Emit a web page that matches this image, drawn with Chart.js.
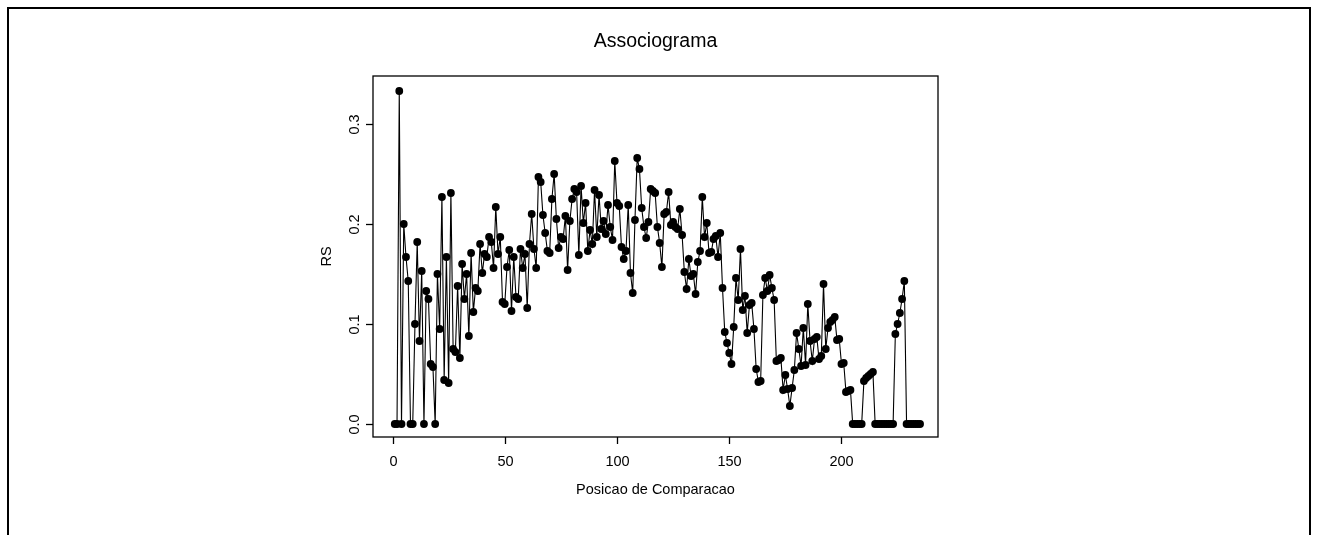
<!DOCTYPE html>
<html>
<head>
<meta charset="utf-8">
<title>Associograma</title>
<script src="https://cdn.jsdelivr.net/npm/chart.js@4/dist/chart.umd.min.js"></script>
<style>
  html, body { margin: 0; padding: 0; background: #fff; }
  canvas { display: block; }
</style>
</head>
<body>
<canvas id="grafico" width="1319" height="535"></canvas>
<script>
// valores (RS por posicao de comparacao)
const rs = [
    0, 0, 0.333, 0, 0.2, 0.167, 0.143, 0, 0, 0.1,
    0.182, 0.083, 0.153, 0, 0.133, 0.125, 0.06, 0.057, 0, 0.15,
    0.095, 0.227, 0.044, 0.167, 0.041, 0.231, 0.075, 0.072, 0.138, 0.066,
    0.16, 0.125, 0.15, 0.088, 0.171, 0.112, 0.136, 0.133, 0.18, 0.151,
    0.17, 0.167, 0.187, 0.182, 0.156, 0.217, 0.17, 0.187, 0.122, 0.12,
    0.157, 0.174, 0.113, 0.167, 0.127, 0.125, 0.175, 0.156, 0.17, 0.116,
    0.18, 0.21, 0.175, 0.156, 0.247, 0.242, 0.209, 0.191, 0.173, 0.171,
    0.225, 0.25, 0.205, 0.176, 0.187, 0.185, 0.208, 0.154, 0.203, 0.225,
    0.235, 0.232, 0.169, 0.238, 0.201, 0.221, 0.173, 0.194, 0.18, 0.234,
    0.187, 0.229, 0.195, 0.203, 0.19, 0.219, 0.197, 0.184, 0.263, 0.221,
    0.218, 0.177, 0.165, 0.173, 0.219, 0.151, 0.131, 0.204, 0.266, 0.255,
    0.216, 0.197, 0.186, 0.202, 0.235, 0.233, 0.231, 0.197, 0.181, 0.157,
    0.21, 0.212, 0.232, 0.199, 0.202, 0.197, 0.195, 0.215, 0.189, 0.152,
    0.135, 0.165, 0.148, 0.15, 0.13, 0.162, 0.173, 0.227, 0.187, 0.201,
    0.171, 0.172, 0.185, 0.188, 0.167, 0.191, 0.136, 0.092, 0.081, 0.071,
    0.06, 0.097, 0.146, 0.124, 0.175, 0.114, 0.128, 0.091, 0.119, 0.121,
    0.095, 0.055, 0.042, 0.043, 0.129, 0.146, 0.133, 0.149, 0.136, 0.124,
    0.063, 0.064, 0.066, 0.034, 0.049, 0.035, 0.018, 0.036, 0.054, 0.091,
    0.075, 0.058, 0.096, 0.059, 0.12, 0.083, 0.063, 0.085, 0.087, 0.065,
    0.068, 0.14, 0.075, 0.096, 0.102, 0.104, 0.107, 0.084, 0.085, 0.06,
    0.061, 0.032, 0.033, 0.034, 0, 0, 0, 0, 0, 0.043,
    0.046, 0.048, 0.05, 0.052, 0, 0, 0, 0, 0, 0,
    0, 0, 0, 0.09, 0.1, 0.111, 0.125, 0.143, 0, 0,
    0, 0, 0, 0, 0
];
const posicoes = rs.map((v, i) => i + 1);

const xTicks = [0, 50, 100, 150, 200];
const yTicks = [0, 0.1, 0.2, 0.3];
const yTickLabels = ['0.0', '0.1', '0.2', '0.3'];

const titulo = 'Associograma';
const xLabel = 'Posicao de Comparacao';
const yLabel = 'RS';

const fonte = '"Liberation Sans", Arial, Helvetica, sans-serif';

// eixos e moldura no estilo do R base
const eixosR = {
    id: 'eixosR',
    afterDraw(chart) {
        const ctx = chart.ctx;
        const area = chart.chartArea;
        const sx = chart.scales.x;
        const sy = chart.scales.y;
        ctx.save();
        ctx.strokeStyle = '#000';
        ctx.fillStyle = '#000';

        // moldura externa
        ctx.lineWidth = 2;
        ctx.strokeRect(8, 8, 1302, 600);

        // caixa do grafico
        ctx.lineWidth = 1.3;
        ctx.strokeRect(area.left, area.top, area.right - area.left, area.bottom - area.top);

        // eixo x
        ctx.font = '14.5px ' + fonte;
        ctx.textAlign = 'center';
        ctx.textBaseline = 'middle';
        xTicks.forEach(function(t) {
            const px = Math.round(sx.getPixelForValue(t)) + 0.5;
            ctx.beginPath();
            ctx.moveTo(px, area.bottom);
            ctx.lineTo(px, area.bottom + 7);
            ctx.stroke();
            ctx.fillText(String(t), px, area.bottom + 25);
        });

        // eixo y
        yTicks.forEach(function(t, i) {
            const py = Math.round(sy.getPixelForValue(t)) + 0.5;
            ctx.beginPath();
            ctx.moveTo(area.left, py);
            ctx.lineTo(area.left - 7, py);
            ctx.stroke();
            ctx.save();
            ctx.translate(area.left - 18, py);
            ctx.rotate(-Math.PI / 2);
            ctx.fillText(yTickLabels[i], 0, 0);
            ctx.restore();
        });

        // rotulos
        const cx = (area.left + area.right) / 2;
        const cy = (area.top + area.bottom) / 2;
        ctx.fillText(xLabel, cx, area.bottom + 53);
        ctx.save();
        ctx.translate(area.left - 46, cy);
        ctx.rotate(-Math.PI / 2);
        ctx.fillText(yLabel, 0, 0);
        ctx.restore();

        // titulo
        ctx.font = '19.5px ' + fonte;
        ctx.fillText(titulo, cx, 42);
        ctx.restore();
    }
};

const ctxGraf = document.getElementById('grafico').getContext('2d');
const grafico = new Chart(ctxGraf, {
    type: 'line',
    data: {
        labels: posicoes,
        datasets: [{
            label: yLabel,
            data: rs,
            borderColor: '#000',
            backgroundColor: '#000',
            borderWidth: 1.1,
            pointRadius: 3.9,
            pointBorderWidth: 0,
            pointBackgroundColor: '#000',
            tension: 0
        }]
    },
    options: {
        responsive: false,
        animation: false,
        devicePixelRatio: 1,
        layout: {
            padding: { left: 373, right: 381, top: 76, bottom: 98 }
        },
        plugins: {
            legend: { display: false },
            tooltip: { enabled: false },
            title: { display: false }
        },
        scales: {
            x: {
                type: 'linear',
                min: -8.7,
                max: 243,
                display: false
            },
            y: {
                min: -0.013,
                max: 0.348,
                display: false
            }
        }
    },
    plugins: [eixosR]
});
</script>
</body>
</html>
